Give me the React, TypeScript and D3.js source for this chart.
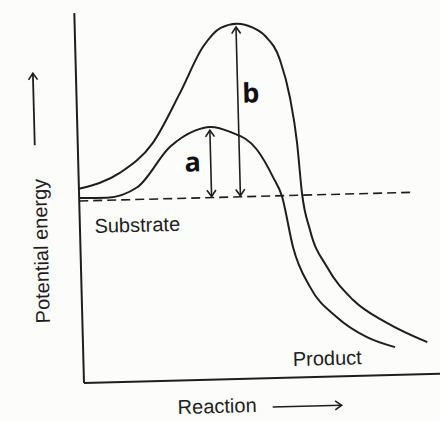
import React, { useRef, useEffect } from 'react';
import * as d3 from "d3";

// constants
const width = 440;
const height = 421;
const tilt = -1.5; // the page in the photo sits a little askew
const ink = "#1e1e1e";

// reaction coordinate (0-100) vs potential energy (0-100)
const substrateLevel = 49.2;
const dashedEnd = 93.8;

const uncatalysed: [number, number][] = [
  [0, 52.5], [11.6, 56.5], [21.1, 64.4], [29.1, 77.7], [35.9, 90.0],
  [41.0, 95.0], [45.5, 96.0], [50.0, 94.8], [53.5, 92.4], [57.4, 85.9], [59.9, 75.8],
  [61.6, 63.3], [62.6, 49.8], [64.6, 39.7], [69.1, 29.6], [76.2, 20.5],
  [85.5, 14.1], [96.7, 8.6]
];
const catalysed: [number, number][] = [
  [0, 50], [7.8, 49.9], [16.4, 52.5], [25.9, 63.2], [33.0, 67.4],
  [37.3, 68.3], [42.9, 66.8], [50.3, 61.8], [54.6, 54.3], [57.0, 48.9],
  [59.7, 35.2], [64.2, 24.3], [71.5, 16.0], [79.8, 10.4], [87.6, 7.5]
];

// activation energy arrows: label, x, top
const arrowLabels = ["a", "b"];
const arrowX = [37.2, 45.3];
const arrowTop = [67.4, 95.1];

const App = () => {
  const gRef = useRef<SVGGElement>(null);

  const xScale = d3.scaleLinear().domain([0, 100]).range([84, 440]);
  const yScale = d3.scaleLinear().domain([0, 100]).range([383, 13]);

  useEffect(() => {
    document.body.style.margin = "0";
    const g = d3.select(gRef.current);
    g.selectAll("*").remove();

    // axes frame
    g.append("line")
      .attr("x1", xScale(0)).attr("x2", xScale(0))
      .attr("y1", yScale(100)).attr("y2", yScale(0))
      .attr("stroke", ink).attr("stroke-width", 2);
    g.append("line")
      .attr("x1", xScale(0)).attr("x2", xScale(103))
      .attr("y1", yScale(0)).attr("y2", yScale(0))
      .attr("stroke", ink).attr("stroke-width", 2);

    // substrate level
    g.append("line")
      .attr("x1", xScale(0)).attr("x2", xScale(dashedEnd))
      .attr("y1", yScale(substrateLevel)).attr("y2", yScale(substrateLevel))
      .attr("stroke", ink).attr("stroke-width", 1.6)
      .attr("stroke-dasharray", "9,5");

    // energy curves
    const line = d3.line<[number, number]>()
      .x(d => xScale(d[0]))
      .y(d => yScale(d[1]))
      .curve(d3.curveMonotoneX);
    g.selectAll(".curve")
      .data([uncatalysed, catalysed])
      .join("path")
        .classed("curve", true)
        .attr("d", d => line(d))
        .attr("fill", "none")
        .attr("stroke", ink)
        .attr("stroke-width", 2);

    // double headed arrows
    g.selectAll(".ea")
      .data(arrowLabels)
      .join("line")
        .classed("ea", true)
        .attr("x1", (d, i) => xScale(arrowX[i]))
        .attr("x2", (d, i) => xScale(arrowX[i]))
        .attr("y1", (d, i) => yScale(arrowTop[i]))
        .attr("y2", yScale(substrateLevel) - 1)
        .attr("stroke", ink).attr("stroke-width", 1.6)
        .attr("marker-start", "url(#head)")
        .attr("marker-end", "url(#head)");
    g.selectAll(".ea-label")
      .data(arrowLabels)
      .join("text")
        .classed("ea-label", true)
        .attr("x", (d, i) => xScale(arrowX[i]) + (i === 0 ? -18 : 13))
        .attr("y", (d, i) => i === 0 ? 174.5 : 107)
        .attr("text-anchor", "middle")
        .style("font-family", "'Open Sans', sans-serif")
        .style("font-weight", 700)
        .style("font-size", "27px")
        .attr("fill", "#111")
        .text(d => d);

    // texts
    const label = (x: number, y: number, t: string) => g.append("text")
      .attr("x", x).attr("y", y)
      .style("font-family", "'Liberation Sans', Arial, sans-serif")
      .style("font-size", "20px")
      .attr("fill", ink)
      .text(t);
    label(xScale(4.1), 233.3, "Substrate");
    label(xScale(58.8), 371.5, "Product");
    label(177, 416.5, "Reaction");
    label(0, 0, "Potential energy")
      .attr("text-anchor", "middle")
      .attr("transform", "translate(51.5,250) rotate(-90)");

    // direction arrows next to the axis titles
    g.append("line")
      .attr("x1", 272).attr("x2", 341)
      .attr("y1", 412).attr("y2", 412)
      .attr("stroke", ink).attr("stroke-width", 1.6)
      .attr("marker-end", "url(#head)");
    g.append("line")
      .attr("x1", 41).attr("x2", 41)
      .attr("y1", 144).attr("y2", 72)
      .attr("stroke", ink).attr("stroke-width", 1.8)
      .attr("marker-end", "url(#head)");
  }, []);

  return (
    <svg width={width} height={height} style={{ position: "absolute", left: 0, top: 0, background: "#fcfcfb" }}>
      <defs>
        <marker id="head" viewBox="-8 -6 10 12" refX={0} refY={0}
          markerWidth={10} markerHeight={12} markerUnits="userSpaceOnUse"
          orient="auto-start-reverse">
          <path d="M-6.5,-4.5 L0,0 L-6.5,4.5" fill="none" stroke={ink} strokeWidth={1.6} />
        </marker>
      </defs>
      <g ref={gRef} transform={`rotate(${tilt},84,383)`}></g>
    </svg>
  );
};

export default App;
